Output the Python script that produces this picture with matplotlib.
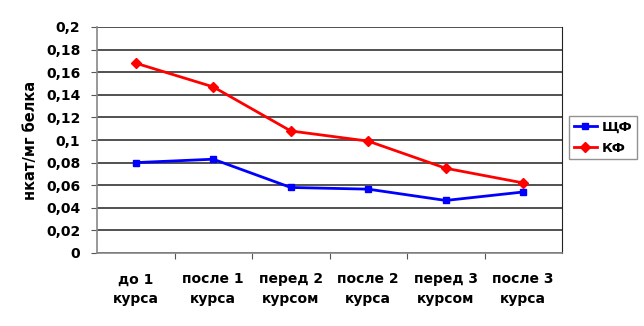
import matplotlib
matplotlib.use("Agg")
import matplotlib.pyplot as plt
from matplotlib.ticker import MultipleLocator, FuncFormatter

categories = ["до 1\nкурса", "после 1\nкурса", "перед 2\nкурсом",
              "после 2\nкурса", "перед 3\nкурсом", "после 3\nкурса"]
shf = [0.080, 0.083, 0.058, 0.0565, 0.0465, 0.054]
kf = [0.168, 0.147, 0.108, 0.099, 0.075, 0.062]

plt.rcParams['font.family'] = ['DejaVu Sans']

fig = plt.figure(figsize=(6.44, 3.26), dpi=100)
ax = fig.add_axes([97/644, 1 - 253/326, (562 - 97)/644, (253 - 27)/326])

x = list(range(len(categories)))
ax.plot(x, shf, color='#0000ff', marker='s', markersize=5, linewidth=2, label='ЩФ')
ax.plot(x, kf, color='#ff0000', marker='D', markersize=5, linewidth=2, label='КФ')

ax.set_xlim(-0.5, len(categories) - 0.5)
ax.set_ylim(0, 0.2)
ax.yaxis.set_major_locator(MultipleLocator(0.02))
ax.yaxis.set_major_formatter(FuncFormatter(
    lambda v, p: '0' if abs(v) < 1e-9 else ('%.2f' % v).rstrip('0').replace('.', ',')))
ax.grid(axis='y', color='#333333', linewidth=1.2)
ax.set_axisbelow(True)

ax.set_xticks([i + 0.5 for i in x[:-1]])
ax.set_xticklabels([])
ax.set_xticks(x, minor=True)
ax.set_xticklabels(categories, minor=True, fontsize=10, fontweight='bold', linespacing=1.5)
ax.tick_params(axis='x', which='minor', length=0, pad=14)
ax.tick_params(axis='x', which='major', length=4, direction='out', color='#555555')
ax.tick_params(axis='y', length=4, direction='out', color='#555555', labelsize=10, pad=8)
for lab in ax.get_yticklabels():
    lab.set_fontweight('bold')

ax.spines['top'].set_visible(False)
ax.spines['left'].set_color('#888888')
ax.spines['bottom'].set_color('#888888')
ax.spines['right'].set_color('#222222')
ax.spines['left'].set_linewidth(1.2)
ax.spines['bottom'].set_linewidth(1.2)

ax.set_ylabel('нкат/мг белка', fontsize=10.5, fontweight='bold')
ax.yaxis.set_label_coords(-0.127, 0.5)

leg = fig.legend(loc='upper left', bbox_to_anchor=(569/644, 1 - 116/326),
                 frameon=True, fancybox=False, edgecolor='#777777',
                 prop={'weight': 'bold', 'size': 9.5}, handlelength=1.8,
                 handletextpad=0.3, borderpad=0.35, labelspacing=0.6,
                 borderaxespad=0)

fig.savefig('out.png', dpi=100)
